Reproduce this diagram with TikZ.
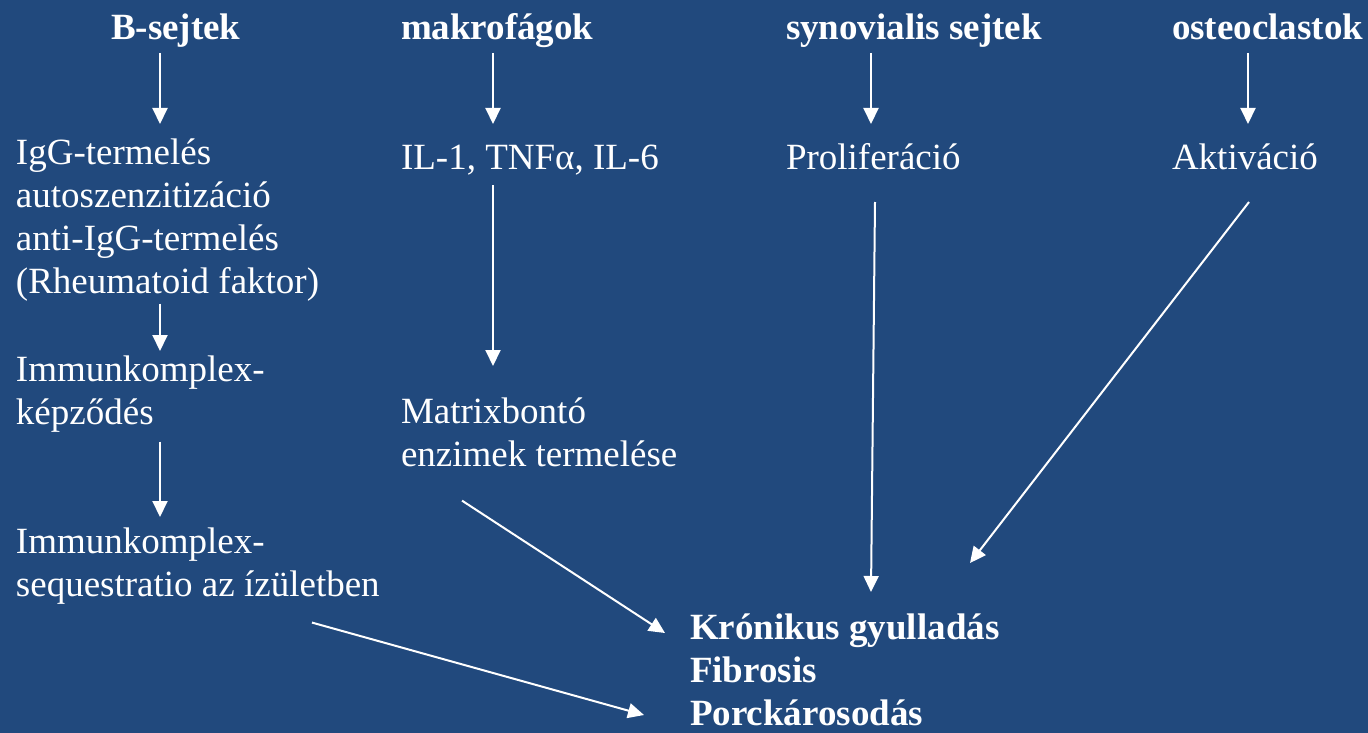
\documentclass[tikz,border=0pt]{standalone}
\usepackage{fontspec}
\setmainfont{Liberation Serif}
\usetikzlibrary{arrows.meta}
\definecolor{bgblue}{RGB}{33,73,125}
\tikzset{hd/.style = {anchor=north west, inner sep=0pt, align=left, text=white,
                      font=\fontsize{37}{43}\selectfont\bfseries,
                      execute at begin node=\strut, execute at end node=\strut},
         tx/.style = {anchor=north west, inner sep=0pt, align=left, text=white,
                      font=\fontsize{37}{43}\selectfont,
                      execute at begin node=\strut, execute at end node=\strut}}

\begin{document}
\begin{tikzpicture}[x=1pt, y=-1pt, line width=2pt, white, >={Triangle[width=15pt,length=16pt]}]
    \fill[bgblue] (0,0) rectangle (1368,733);
    \useasboundingbox (0,0) rectangle (1368,733);
    % headers
    \node[hd] (hb) at (110,8) {B-sejtek};
    \node[hd] (hm) at (400,8) {makrofágok};
    \node[hd] (hs) at (785,8) {synovialis sejtek};
    \node[hd] (ho) at (1171,8) {osteoclastok};
    % first row
    \node[tx] (igg) at (15,138) {IgG-termelés\\autoszenzitizáció\\anti-IgG-termelés\\(Rheumatoid faktor)};
    \node[tx] (il) at (400,138) {IL-1, TNFα, IL-6};
    \node[tx] (prol) at (785,138) {Proliferáció};
    \node[tx] (akt) at (1171,138) {Aktiváció};
    % further steps
    \node[tx] (imk1) at (15,355) {Immunkomplex-\\képződés};
    \node[tx] (imk2) at (15,527) {Immunkomplex-\\sequestratio az ízületben};
    \node[tx] (mtx) at (400,397) {Matrixbontó\\enzimek termelése};
    \node[hd] (kron) at (689,613) {Krónikus gyulladás\\Fibrosis\\Porckárosodás};
    % arrows
    \draw[->, shorten >=14pt] (hb.south -| 160,0) -- (igg.north -| 160,0);
    \draw[->, shorten >=14pt] (hm.south -| 493,0) -- (il.north -| 493,0);
    \draw[->, shorten >=14pt] (hs.south -| 871,0) -- (prol.north -| 871,0);
    \draw[->, shorten >=14pt] (ho.south -| 1248,0) -- (akt.north -| 1248,0);
    \draw[->, shorten <=-4pt, shorten >=4pt] (igg.south -| 160,0) -- (imk1.north -| 160,0);
    \draw[->, shorten <=3pt, shorten >=10pt] (imk1.south -| 160,0) -- (imk2.north -| 160,0);
    \draw[->, shorten <=2pt, shorten >=31pt] (il.south -| 493,0) -- (mtx.north -| 493,0);
    \draw[->] ([xshift=90pt, yshift=-19pt]prol.south west) -- ([xshift=182pt, yshift=21pt]kron.north west);
    \draw[->] ([xshift=78pt, yshift=-19pt]akt.south west) -- ([xshift=281pt, yshift=50pt]kron.north west);
    \draw[->] ([xshift=62pt, yshift=-20pt]mtx.south west) -- ([xshift=-24pt, yshift=-20pt]kron.north west);
    \draw[->] ([xshift=297pt, yshift=-12pt]imk2.south west) -- ([xshift=-45pt, yshift=-102pt]kron.north west);
\end{tikzpicture}
\end{document}
